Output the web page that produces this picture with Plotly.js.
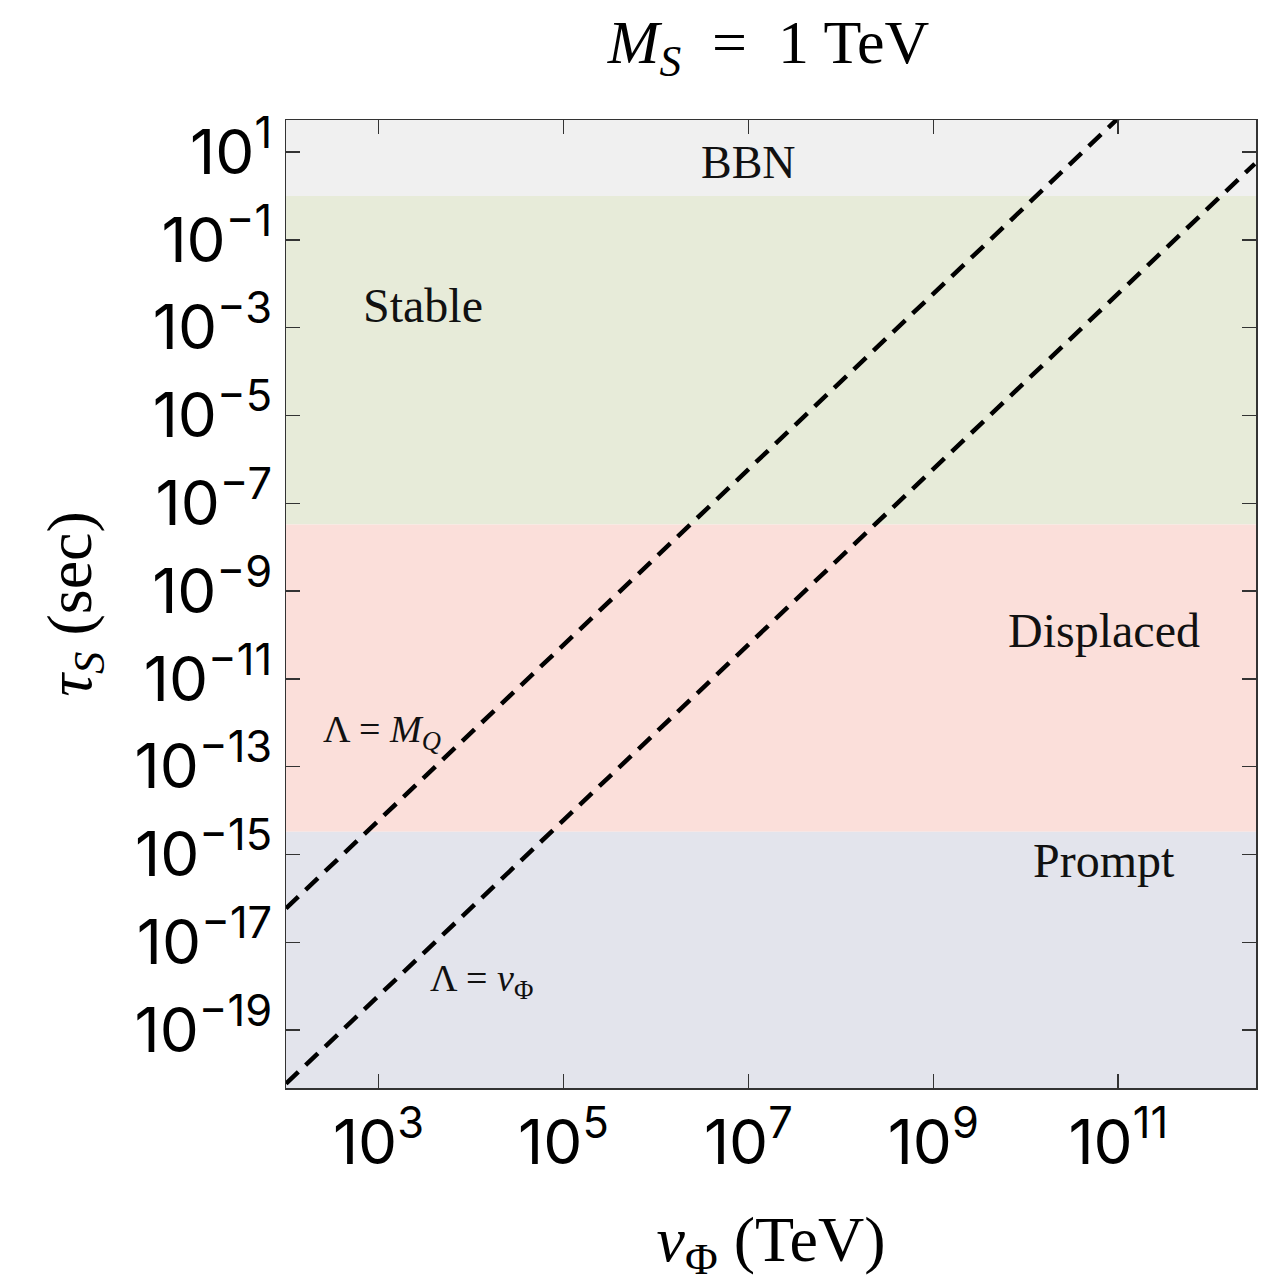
<!DOCTYPE html>
<html>
<head>
<meta charset="utf-8">
<script src="https://cdn.plot.ly/plotly-3.0.1.min.js"></script>
<style>html,body{margin:0;padding:0;background:#fff;}</style>
</head>
<body>
<div id="chart" style="width:1264px;height:1284px;"></div>
<script>
// ---- data ----
const xTickVals = [1e3, 1e5, 1e7, 1e9, 1e11];
const xTickText = ["10<sup>3</sup>", "10<sup>5</sup>", "10<sup>7</sup>", "10<sup>9</sup>", "10<sup>11</sup>"];
const yTickVals = [1e1, 1e-1, 1e-3, 1e-5, 1e-7, 1e-9, 1e-11, 1e-13, 1e-15, 1e-17, 1e-19];
const yTickText = ["10<sup>1</sup>", "10<sup>−1</sup>", "10<sup>−3</sup>", "10<sup>−5</sup>", "10<sup>−7</sup>",
  "10<sup>−9</sup>", "10<sup>−11</sup>", "10<sup>−13</sup>", "10<sup>−15</sup>", "10<sup>−17</sup>", "10<sup>−19</sup>"];

// region boundaries in tau_S (sec)
const bandNames = ["BBN", "Stable", "Displaced", "Prompt"];
const bandLow  = [1, 3.3e-8, 3.3e-15, 1e-21];
const bandHigh = [1e3, 1, 3.3e-8, 3.3e-15];
const bandColors = ["#f0f0f0", "#e7ebd9", "#fbdfda", "#e3e4ec"];

// dashed lifetime lines (v_Phi in TeV, tau_S in sec)
const lineMQ_x = [1e2, 1e11];
const lineMQ_y = [5.9e-17, 5.9e1];
const lineV_x  = [1e2, 3e12];
const lineV_y  = [6.0e-21, 5.4e0];

const xRange = [2, 12.49];
const yRange = [-20.32, 1.73];

const serif = "Liberation Serif, Times New Roman, serif";
const sans = "Inter, Roboto, Liberation Sans, sans-serif";

const shapes = bandNames.map((n, i) => ({
  type: "rect", xref: "paper", yref: "y", x0: 0, x1: 1,
  y0: bandLow[i], y1: bandHigh[i], fillcolor: bandColors[i],
  line: {width: 0}, layer: "below"
}));

const traces = [
  {x: lineMQ_x, y: lineMQ_y, mode: "lines", type: "scatter",
   line: {color: "#000", width: 4.5, dash: "17px,10px"}, hoverinfo: "skip", name: "Λ = M_Q"},
  {x: lineV_x, y: lineV_y, mode: "lines", type: "scatter",
   line: {color: "#000", width: 4.5, dash: "17px,10px"}, hoverinfo: "skip", name: "Λ = v_Φ"}
];

const annotations = [
  {text: "BBN", x: Math.log10(1e7), y: Math.log10(5.9), xref: "x", yref: "y", showarrow: false,
   font: {family: serif, size: 46, color: "#111"}},
  {text: "Stable", x: Math.log10(3.0e3), y: Math.log10(3.2e-3), xref: "x", yref: "y", showarrow: false,
   font: {family: serif, size: 48, color: "#111"}},
  {text: "Displaced", x: Math.log10(7e10), y: Math.log10(1.26e-10), xref: "x", yref: "y", showarrow: false,
   font: {family: serif, size: 48, color: "#111"}},
  {text: "Prompt", x: Math.log10(7e10), y: Math.log10(7.4e-16), xref: "x", yref: "y", showarrow: false,
   font: {family: serif, size: 48, color: "#111"}},
  {text: "Λ = <i>M</i><sub><i>Q</i></sub>", x: Math.log10(1.1e3), y: Math.log10(6.3e-13), xref: "x", yref: "y",
   showarrow: false, font: {family: serif, size: 38, color: "#111"}},
  {text: "Λ = <i>v</i><sub>Φ</sub>", x: Math.log10(1.3e4), y: Math.log10(1.3e-18), xref: "x", yref: "y",
   showarrow: false, font: {family: serif, size: 38, color: "#111"}}
];

const axisCommon = {
  type: "log", showgrid: false, zeroline: false, showline: true, mirror: "ticks",
  linecolor: "#333", linewidth: 1.5, ticks: "inside", ticklen: 14, tickwidth: 1.5, tickcolor: "#333",
  tickmode: "array", tickfont: {family: sans, size: 62, color: "#000"}
};

const layout = {
  width: 1264, height: 1284,
  margin: {l: 286, r: 8, t: 120, b: 196, pad: 0},
  paper_bgcolor: "#fff", plot_bgcolor: "#fff",
  showlegend: false, hovermode: false,
  title: {text: "<i>M</i><sub><i>S</i></sub>  =  1 TeV", x: 0.608, xanchor: "center", y: 0.968, yanchor: "middle",
          font: {family: serif, size: 62, color: "#000"}},
  xaxis: Object.assign({}, axisCommon, {range: xRange, tickvals: xTickVals, ticktext: xTickText,
     title: {text: "<i>v</i><sub>Φ</sub> (TeV)", standoff: 44, font: {family: serif, size: 64, color: "#000"}}}),
  yaxis: Object.assign({}, axisCommon, {range: yRange, tickvals: yTickVals, ticktext: yTickText,
     title: {text: "<i>τ</i><sub><i>S</i></sub> (sec)", standoff: 22, font: {family: serif, size: 64, color: "#000"}}}),
  shapes: shapes,
  annotations: annotations
};

Plotly.newPlot("chart", traces, layout, {displayModeBar: false, staticPlot: true});
</script>
</body>
</html>
